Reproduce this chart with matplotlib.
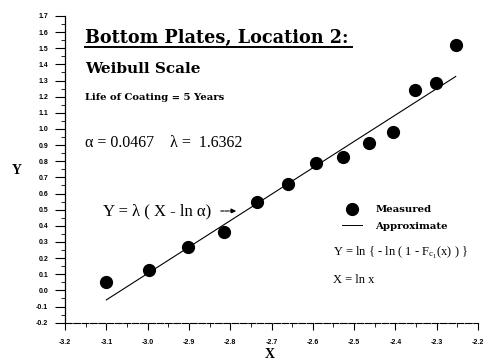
import matplotlib
matplotlib.use("Agg")
import matplotlib.pyplot as plt
from matplotlib.lines import Line2D
import numpy as np

# measured points (X = ln x, Y = ln(-ln(1-F)))
x_meas = [-3.100, -2.997, -2.901, -2.814, -2.734, -2.661, -2.592,
          -2.527, -2.465, -2.407, -2.353, -2.302, -2.254]
y_meas = [0.054, 0.127, 0.271, 0.362, 0.550, 0.659, 0.788,
          0.825, 0.913, 0.983, 1.240, 1.283, 1.519]

# fitted weibull parameters
alpha = 0.0467
lam = 1.6362

x_ticks = [-3.2, -3.1, -3.0, -2.9, -2.8, -2.7, -2.6, -2.5, -2.4, -2.3, -2.2]
y_ticks = [-0.2, -0.1, 0.0, 0.1, 0.2, 0.3, 0.4, 0.5, 0.6, 0.7, 0.8, 0.9,
           1.0, 1.1, 1.2, 1.3, 1.4, 1.5, 1.6, 1.7]

plt.rcParams['font.family'] = 'Liberation Serif'
plt.rcParams['mathtext.fontset'] = 'stix'

W, H = 486, 364
fig = plt.figure(figsize=(W / 100, H / 100), dpi=100)


def px(x, y):
    return x / W, 1 - y / H


ax = fig.add_axes([65 / W, 1 - 322.7 / H, (478 - 65) / W, (322.7 - 16) / H])

x_fit = np.array([x_meas[0], x_meas[-1]])
y_fit = lam * (x_fit - np.log(alpha))
ax.plot(x_fit, y_fit, color='black', lw=0.8)
ax.plot(x_meas, y_meas, 'o', color='black', ms=8.5, mec='black')

ax.set_xlim(-3.2, -2.2)
ax.set_ylim(-0.2, 1.7)
ax.set_xticks(x_ticks)
ax.set_yticks(y_ticks)
ax.set_xticks(np.arange(-3.15, -2.2, 0.1), minor=True)
ax.set_yticks(np.arange(-0.15, 1.7, 0.1), minor=True)
ax.set_xticklabels([f"{v:.1f}" for v in x_ticks])
ax.set_yticklabels([f"{v:.1f}" for v in y_ticks])
for lab in ax.get_xticklabels() + ax.get_yticklabels():
    lab.set_fontfamily('Liberation Sans')
    lab.set_fontweight('bold')
    lab.set_fontsize(5)
ax.tick_params(axis='both', which='major', length=7, width=0.8, pad=5)
ax.tick_params(axis='both', which='minor', length=3, width=0.6)
ax.tick_params(axis='x', which='major', length=5, pad=7)

for s in ['top', 'right']:
    ax.spines[s].set_visible(False)
ax.spines['left'].set_linewidth(0.9)
ax.spines['bottom'].set_linewidth(0.8)
ax.spines['bottom'].set_linestyle((0, (6, 1.5)))
ax.patch.set_alpha(0)

fig.text(*px(12, 170), 'Y', fontsize=10, fontweight='bold', ha='left', va='center')
fig.text(*px(270, 355), 'X', fontsize=10, fontweight='bold', ha='center', va='center')

fig.text(*px(85, 38), 'Bottom Plates, Location 2:', fontsize=12.7, family='DejaVu Serif',
         fontweight='bold', ha='left', va='center')
fig.add_artist(Line2D([85 / W, 352 / W], [1 - 47 / H, 1 - 47 / H], color='black', lw=1.4))
fig.text(*px(85, 69), 'Weibull Scale', fontsize=11, family='DejaVu Serif',
         fontweight='bold', ha='left', va='center')
fig.text(*px(85, 97), 'Life of Coating = 5 Years', fontsize=7.2, family='DejaVu Serif',
         fontweight='bold', ha='left', va='center')
fig.text(*px(85, 143), f'\u03b1 = {alpha}    \u03bb =  {lam}', fontsize=11.5,
         ha='left', va='center')

fig.text(*px(103, 211), 'Y = \u03bb ( X - ln \u03b1)', fontsize=12, ha='left', va='center')
ax.annotate('', xy=px(239, 211), xytext=px(218, 211), xycoords='figure fraction',
            textcoords='figure fraction',
            arrowprops=dict(arrowstyle='-|>', lw=0.8, color='black',
                            mutation_scale=7, linestyle=(0, (3, 1))))

# legend
handles = [Line2D([], [], marker='o', ls='none', color='black', ms=8.5),
           Line2D([], [], color='black', lw=0.7)]
leg = fig.legend(handles, ['Measured', 'Approximate'], loc='center left',
                 bbox_to_anchor=px(337, 218), frameon=False,
                 prop={'family': 'DejaVu Serif', 'weight': 'bold', 'size': 7.3},
                 handlelength=2.0, handletextpad=1.3, labelspacing=0.75,
                 borderpad=0)

fig.text(*px(333, 253), r'Y = ln { - ln ( 1 - F$_{\mathregular{c_1}}$(x) ) }',
         fontsize=9, ha='left', va='center')
fig.text(*px(333, 280), 'X = ln x', fontsize=9, ha='left', va='center')

fig.savefig('out.png', dpi=100)
